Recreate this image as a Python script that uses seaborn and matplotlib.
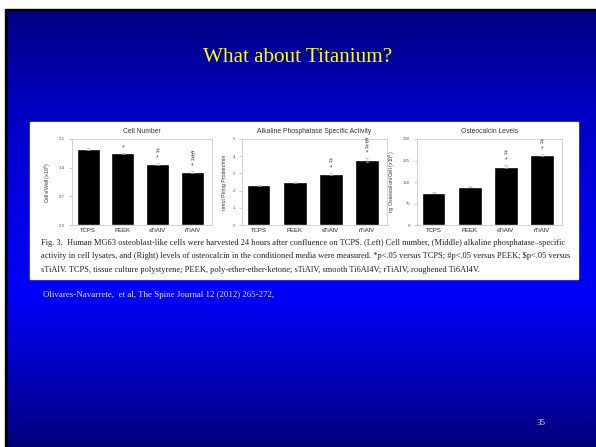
import numpy as np
import seaborn as sns
import matplotlib.pyplot as plt
from matplotlib.patches import Rectangle

sns.set_theme(style="ticks")

# data
groups = ["TCPS", "PEEK", "sTiAlV", "rTiAlV"]
cell_number = [1.85, 1.75, 1.49, 1.29]
cell_err = [0.02, 0.02, 0.03, 0.03]
alp_activity = [2.31, 2.48, 2.97, 3.76]
alp_err = [0.04, 0.04, 0.06, 0.12]
osteocalcin = [113, 134, 204, 244]
osteo_err = [2, 3, 5, 4]
cell_marks = ["", "*", "#\n*", "$\n#\n*"]
alp_marks = ["", "", "#\n*", "$\n#\n*"]
osteo_marks = ["", "", "#\n*", "#\n*"]

W, H = 596, 447
fig = plt.figure(figsize=(W / 100, H / 100), dpi=100)
fig.patch.set_facecolor("white")


def fx(px):
    return px / W


def fy(py):
    return 1 - py / H


# slide background with vertical gradient
bg = fig.add_axes([0, 0, 1, 1], zorder=0)
bg.set_xlim(0, W)
bg.set_ylim(H, 0)
bg.axis("off")
bg.add_patch(Rectangle((5, 9), W - 5, H - 9, color="black", zorder=0))
stops_y = [11, 110, 200, 295, 370, 447]
stops_b = [0x80, 0xC2, 0xE2, 0xF8, 0xC0, 0x78]
ys = np.arange(11, H + 1)
blue = np.interp(ys, stops_y, stops_b) / 255
grad = np.zeros((len(ys), 1, 3))
grad[:, 0, 2] = blue
bg.imshow(grad, extent=(8, W, H, 11), aspect="auto", zorder=1)
bg.add_patch(Rectangle((30, 122), 548, 157, color="white", zorder=2))

bg.text(298, 58, "What about Titanium?", color="#ffff00", fontsize=15.2,
        family="Liberation Serif", ha="center", va="center", zorder=3)
bg.text(43, 295, "Olivares-Navarrete,  et al, The Spine Journal 12 (2012) 265-272,",
        color="#e8e8ff", fontsize=6.4, family="Liberation Serif", va="center", zorder=3)
bg.text(541, 423, "35", color="#e8e8f0", fontsize=6.5, family="Liberation Serif",
        ha="center", va="center", zorder=3)

caption = [
    "Fig. 3.  Human MG63 osteoblast-like cells were harvested 24 hours after confluence on TCPS. "
    "(Left) Cell number, (Middle) alkaline phosphatase\u2013specific",
    "activity in cell lysates, and (Right) levels of osteocalcin in the conditioned media were measured. "
    "*p<.05 versus TCPS; #p<.05 versus PEEK; $p<.05 versus",
    "sTiAlV. TCPS, tissue culture polystyrene; PEEK, poly-ether-ether-ketone; sTiAlV, smooth Ti6Al4V; "
    "rTiAlV, roughened Ti6Al4V.",
]
for i, line in enumerate(caption):
    bg.text(41, 243 + i * 13.3, line, color="#222222", fontsize=6.0,
            family="Liberation Serif", va="center", zorder=3)

panels = [
    (72, 212, "Cell Number", cell_number, cell_err, cell_marks,
     "Cells/Well (x10$^5$)", [0.0, 0.7, 1.4, 2.1], 2.1, "%.1f"),
    (242, 387, "Alkaline Phosphatase Specific Activity", alp_activity, alp_err, alp_marks,
     "nmol Pi/mg Protein/min", [0, 1, 2, 3, 4, 5], 5, "%d"),
    (417, 562, "Osteocalcin Levels", osteocalcin, osteo_err, osteo_marks,
     "ng Osteocalcin/Cell (x10$^5$)", [0, 75, 150, 225, 300], 300, "%d"),
]

top, bottom = 139, 225
for left, right, title, vals, errs, marks, ylab, ticks, ymax, fmt in panels:
    ax = fig.add_axes([fx(left), fy(bottom), fx(right - left), (bottom - top) / H], zorder=4)
    sns.barplot(x=groups, y=vals, color="black", width=0.66, errorbar=None,
                saturation=1, ax=ax)
    ax.errorbar(range(len(groups)), vals, yerr=errs, fmt="none", ecolor="#b0b0b0",
                elinewidth=0.4, capsize=1.6, capthick=0.4)
    for i, m in enumerate(marks):
        if m:
            ax.annotate(m, (i, vals[i] + errs[i]), xytext=(0, 1), textcoords="offset points",
                        ha="center", va="bottom", fontsize=4.8, linespacing=0.85,
                        family="Liberation Sans", color="#444444")
    ax.set_xlim(-0.46, 3.56)
    ax.set_ylim(0, ymax)
    ax.set_yticks(ticks)
    ax.set_yticklabels([fmt % t for t in ticks])
    ax.set_facecolor("white")
    for s in ax.spines.values():
        s.set_visible(True)
        s.set_color("#cccccc")
        s.set_linewidth(0.6)
    ax.tick_params(axis="y", labelsize=3.2, length=2, width=0.4, color="#aaaaaa",
                   labelcolor="#555555", pad=3)
    ax.tick_params(axis="x", labelsize=4.3, length=0, pad=2.5, labelcolor="#222222")
    for lab in ax.get_xticklabels() + ax.get_yticklabels():
        lab.set_family("Liberation Sans")
    ax.set_title(title, fontsize=4.9, family="Liberation Sans", color="#333333", pad=4)
    ax.set_ylabel(ylab, fontsize=3.8, family="Liberation Sans", color="#333333", labelpad=4)
    ax.set_xlabel("")

fig.savefig("out.png", dpi=100)
